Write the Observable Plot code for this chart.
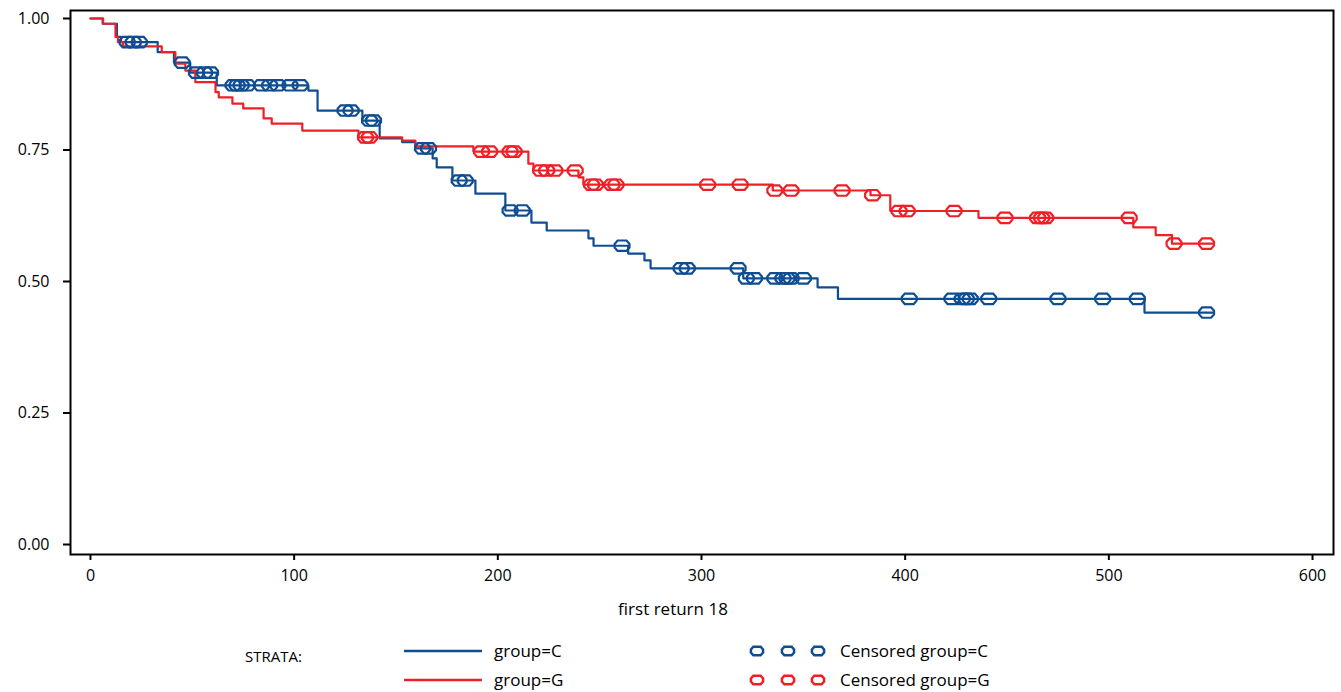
<!DOCTYPE html>
<html>
<head>
<meta charset="utf-8">
<script src="https://cdn.jsdelivr.net/npm/d3@7"></script>
<script src="https://cdn.jsdelivr.net/npm/@observablehq/plot@0.6"></script>
<style>
  body { margin: 0; background: white; }
  #chart svg { display: block; }
  #legend { display: block; }
</style>
</head>
<body>
<div id="chart"></div>
<div id="legend"></div>
<script>
// ---- Data ----
const xTicks = [0, 100, 200, 300, 400, 500, 600];
const yTicks = [0, 0.25, 0.5, 0.75, 1.0];
const groups = ["group=C", "group=G"];
const axisLabel = "first return 18";

// group=C : event times and survival after each event
const timeC = [0, 6, 13, 15, 33, 41, 49, 62, 107, 111.5, 133.5, 142, 153, 159.5, 168, 170, 177.7, 189, 203.7, 216.5, 224, 244.5, 247, 264, 272, 275, 320.5, 357, 367, 517.5];
const survC = [1.0, 0.990, 0.965, 0.955, 0.936, 0.916, 0.897, 0.873, 0.863, 0.825, 0.806, 0.772, 0.765, 0.753, 0.734, 0.717, 0.692, 0.667, 0.635, 0.612, 0.597, 0.582, 0.568, 0.553, 0.540, 0.525, 0.506, 0.489, 0.467, 0.441];
const censC = [18, 21, 24, 45, 52, 56, 59, 70, 72, 74, 77, 84, 88, 92, 98, 103, 125, 128, 137, 139, 163, 166, 181, 184, 206, 212, 261, 290, 293, 318, 322, 326, 336, 340, 342, 344, 350, 402, 423, 428, 430, 432, 441, 475, 497, 514, 548];
const endC = 551;

// group=G
const timeG = [0, 6.2, 12.3, 13.5, 16, 35, 41.7, 46.6, 51.5, 61.4, 63, 69.7, 75, 85, 89, 104, 131.6, 153, 159.5, 188, 215, 217.5, 239.6, 242, 335, 383, 392.7, 436, 512, 523, 531];
const survG = [1.0, 0.990, 0.965, 0.955, 0.947, 0.936, 0.914, 0.901, 0.879, 0.860, 0.850, 0.838, 0.829, 0.810, 0.800, 0.787, 0.774, 0.768, 0.757, 0.747, 0.724, 0.711, 0.698, 0.684, 0.673, 0.664, 0.634, 0.621, 0.603, 0.588, 0.572];
const censG = [135, 137, 192, 196, 206, 208, 221, 224, 228, 238, 246, 248, 256, 258, 303, 319, 336, 344, 369, 384, 397, 401, 424, 449, 465, 467, 469, 510, 532, 548];
const endG = 551;

const colors = {"group=C": "#0e4d92", "group=G": "#ee1f26"};

// ---- helpers ----
function stepRows(times, surv, end, g) {
  const rows = times.map((t, i) => ({t, s: surv[i], g}));
  rows.push({t: end, s: surv[surv.length - 1], g});
  return rows;
}
function survAt(times, surv, t) {
  let s = surv[0];
  for (let i = 0; i < times.length; i++) if (times[i] <= t) s = surv[i];
  return s;
}
const rowsC = stepRows(timeC, survC, endC, groups[0]);
const rowsG = stepRows(timeG, survG, endG, groups[1]);
const cRowsC = censC.map(t => ({t, s: survAt(timeC, survC, t), g: groups[0]}));
const cRowsG = censG.map(t => ({t, s: survAt(timeG, survG, t), g: groups[1]}));

// flattened octagon censor symbol
const censorSymbol = {
  draw(context, size) {
    const r = Math.sqrt(size / Math.PI);
    const w = r * 1.35, h = r * 0.95;
    context.moveTo(-w, -h * 0.35);
    context.lineTo(-w * 0.6, -h);
    context.lineTo(w * 0.6, -h);
    context.lineTo(w, -h * 0.35);
    context.lineTo(w, h * 0.35);
    context.lineTo(w * 0.6, h);
    context.lineTo(-w * 0.6, h);
    context.lineTo(-w, h * 0.35);
    context.closePath();
  }
};

const chart = Plot.plot({
  width: 1341,
  height: 630,
  marginLeft: 70,
  marginRight: 8,
  marginTop: 10,
  marginBottom: 76,
  x: {domain: [-9.8, 610.3]},
  y: {domain: [-0.019, 1.0152]},
  style: {fontFamily: "'Open Sans', sans-serif", fontSize: "16px", color: "black", background: "white"},
  marks: [
    Plot.axisX({ticks: xTicks, tickSize: 6, tickPadding: 9, tickFormat: "d", label: null, stroke: "black", strokeWidth: 2, fontSize: 16}),
    Plot.axisY({ticks: yTicks, tickSize: 7, tickPadding: 14, tickFormat: ".2f", label: null, stroke: "black", strokeWidth: 2, fontSize: 16}),
    Plot.line(rowsC, {x: "t", y: "s", curve: "step-after", stroke: colors[groups[0]], strokeWidth: 2.2}),
    Plot.line(rowsG, {x: "t", y: "s", curve: "step-after", stroke: colors[groups[1]], strokeWidth: 2.2}),
    Plot.dot(cRowsC, {x: "t", y: "s", symbol: censorSymbol, r: 5.5, stroke: colors[groups[0]], strokeWidth: 2.2, fill: "none"}),
    Plot.dot(cRowsG, {x: "t", y: "s", symbol: censorSymbol, r: 5.5, stroke: colors[groups[1]], strokeWidth: 2.2, fill: "none"}),
    Plot.frame({stroke: "black", strokeWidth: 2}),
    Plot.text([axisLabel], {x: [286], frameAnchor: "bottom", dy: 60, fontSize: 17, fill: "black"})
  ]
});
document.getElementById("chart").appendChild(chart);

// ---- legend (below the SVG) ----
const ns = "http://www.w3.org/2000/svg";
const leg = d3.select("#legend").append("svg").attr("xmlns", ns).attr("width", 1341).attr("height", 62)
  .style("font-family", "'Open Sans', sans-serif");
leg.append("text").attr("x", 245).attr("y", 32).attr("font-size", 15).text("STRATA:");
groups.forEach((g, i) => {
  const cy = 21 + i * 29;
  leg.append("line").attr("x1", 404).attr("x2", 482).attr("y1", cy).attr("y2", cy)
    .attr("stroke", colors[g]).attr("stroke-width", 2.5);
  leg.append("text").attr("x", 494).attr("y", cy + 6).attr("font-size", 17).text(g);
  [757, 788, 818].forEach(cx => {
    const p = d3.path();
    censorSymbol.draw(p, Math.PI * 4.5 * 4.5);
    leg.append("path").attr("d", p.toString()).attr("transform", `translate(${cx},${cy})`)
      .attr("fill", "none").attr("stroke", colors[g]).attr("stroke-width", 2.5);
  });
  leg.append("text").attr("x", 840).attr("y", cy + 6).attr("font-size", 17).text("Censored " + g);
});
</script>
</body>
</html>
